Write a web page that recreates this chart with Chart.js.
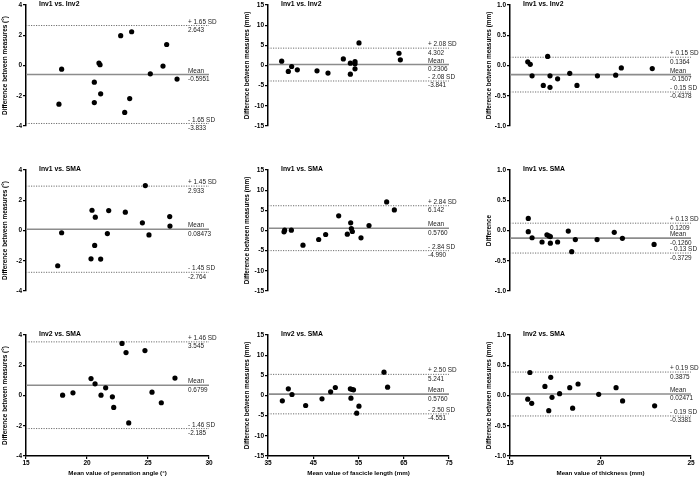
<!DOCTYPE html>
<html>
<head>
<meta charset="utf-8">
<script src="https://cdn.jsdelivr.net/npm/chart.js@4.4.1/dist/chart.umd.min.js"></script>
<style>
body{margin:0;background:#fff}
#wrap{position:relative;width:700px;height:478px;overflow:hidden}
#wrap canvas{position:absolute}
</style>
</head>
<body>
<div id="wrap"></div>
<script>
// pennation angle, Inv1 vs. Inv2
const pennA_x = [17.7, 17.92, 20.6, 20.6, 20.98, 21.07, 21.12, 22.76, 23.09, 23.5, 23.66, 25.19, 26.23, 26.53, 27.38];
const pennA_y = [-2.56, -0.24, -1.1, -2.45, 0.16, 0.05, -1.87, 1.97, -3.1, -2.19, 2.23, -0.55, -0.04, 1.39, -0.9];
// fascicle length, Inv1 vs. Inv2
const fascA_x = [38.02, 39.49, 40.23, 41.48, 45.83, 48.26, 51.65, 53.2, 53.2, 54.23, 54.23, 54.23, 55.11, 63.95, 64.25];
const fascA_y = [1.07, -1.48, -0.25, -1.07, -1.31, -1.89, 1.64, 0.58, -2.14, 0.99, 0.41, -0.82, 5.59, 3.04, 1.4];
// thickness, Inv1 vs. Inv2
const thickA_x = [15.98, 16.12, 16.22, 16.84, 17.08, 17.21, 17.21, 17.63, 18.3, 18.7, 19.83, 20.84, 21.15, 22.86];
const thickA_y = [0.06, 0.02, -0.17, -0.33, 0.15, -0.17, -0.36, -0.22, -0.13, -0.33, -0.17, -0.16, -0.04, -0.05];
// pennation angle, Inv1 vs. SMA
const pennB_x = [17.6, 17.92, 20.41, 20.33, 20.63, 20.68, 21.12, 21.67, 21.78, 23.14, 24.54, 24.78, 25.08, 26.78, 26.8];
const pennB_y = [-2.33, -0.15, 1.34, -1.87, -0.99, 0.88, -1.89, -0.2, 1.32, 1.21, 0.51, 2.97, -0.29, 0.92, 0.29];
// fascicle length, Inv1 vs. SMA
const fascB_x = [38.68, 38.54, 40.16, 42.73, 46.2, 47.74, 50.62, 52.53, 53.27, 53.42, 53.64, 55.55, 57.32, 61.22, 62.92];
const fascB_y = [0.08, -0.33, 0.08, -3.63, -2.23, -0.99, 3.63, -0.91, 1.9, 0.49, -0.25, -1.81, 1.24, 7.09, 5.11];
// thickness, Inv1 vs. SMA
const thickB_x = [16.01, 16.01, 16.22, 16.77, 17.04, 17.15, 17.23, 17.23, 17.63, 18.22, 18.41, 18.61, 19.81, 20.76, 21.21, 22.96];
const thickB_y = [0.2, -0.02, -0.12, -0.19, -0.07, -0.09, -0.1, -0.21, -0.19, -0.01, -0.35, -0.15, -0.15, -0.03, -0.13, -0.23];
// pennation angle, Inv2 vs. SMA
const pennC_x = [18.0, 18.85, 20.33, 20.66, 21.15, 21.53, 22.08, 22.19, 22.87, 23.2, 23.42, 24.75, 25.33, 26.09, 27.21];
const pennC_y = [0.02, 0.18, 1.12, 0.77, 0.02, 0.51, -0.09, -0.79, 3.44, 2.84, -1.81, 2.97, 0.22, -0.48, 1.15];
// fascicle length, Inv2 vs. SMA
const fascC_x = [38.17, 39.49, 40.3, 43.32, 46.93, 48.84, 49.88, 53.2, 53.33, 53.63, 53.9, 54.6, 55.1, 60.64, 61.43];
const fascC_y = [-1.32, 1.65, 0.25, -2.48, -0.83, 0.91, 1.98, 1.65, -0.66, 1.49, 1.4, -4.38, -2.64, 5.79, 2.07];
// thickness, Inv2 vs. SMA
const thickC_x = [15.98, 16.1, 16.2, 16.93, 17.14, 17.25, 17.32, 17.74, 18.3, 18.46, 18.76, 19.9, 20.86, 21.22, 22.99];
const thickC_y = [-0.06, 0.38, -0.13, 0.15, -0.25, 0.3, -0.03, 0.03, 0.13, -0.21, 0.19, 0.02, 0.13, -0.09, -0.17];

const panelX = [pennA_x, fascA_x, thickA_x, pennB_x, fascB_x, thickB_x, pennC_x, fascC_x, thickC_x];
const panelY = [pennA_y, fascA_y, thickA_y, pennB_y, fascB_y, thickB_y, pennC_y, fascC_y, thickC_y];

const titles = ['Inv1 vs. Inv2', 'Inv1 vs. Inv2', 'Inv1 vs. Inv2',
                'Inv1 vs. SMA', 'Inv1 vs. SMA', 'Inv1 vs. SMA',
                'Inv2 vs. SMA', 'Inv2 vs. SMA', 'Inv2 vs. SMA'];
const yTitles = ['Difference between measures (°)', 'Difference between measures (mm)', 'Difference between measures (mm)',
                 'Difference between measures (°)', 'Difference between measures (mm)', 'Difference',
                 'Difference between measures (°)', 'Difference between measures (mm)', 'Difference between measures (mm)'];
const xTitles = ['Mean value of pennation angle (°)', 'Mean value of fascicle length (mm)', 'Mean value of thickness (mm)'];

const xMin = [15, 35, 15], xMax = [30, 75, 25], xStep = [5, 10, 5];
const yMin = [-4, -15, -1], yMax = [4, 15, 1], yStep = [2, 5, 0.5];

const meanLines = [-0.5951, 0.2306, -0.1507, 0.08473, 0.5760, -0.1260, 0.6799, 0.345, 0.02471];
const upperLimits = [2.643, 4.302, 0.1364, 2.933, 6.142, 0.1209, 3.545, 5.241, 0.3875];
const lowerLimits = [-3.833, -3.841, -0.4378, -2.764, -4.990, -0.3729, -2.185, -4.551, -0.3381];
const sdTexts = ['1.65', '2.08', '0.15', '1.45', '2.84', '0.13', '1.46', '2.50', '0.19'];
const meanTexts = ['-0.5951', '0.2306', '-0.1507', '0.08473', '0.5760', '-0.1260', '0.6799', '0.5760', '0.02471'];
const upperTexts = ['2.643', '4.302', '0.1364', '2.933', '6.142', '0.1209', '3.545', '5.241', '0.3875'];
const lowerTexts = ['-3.833', '-3.841', '-0.4378', '-2.764', '-4.990', '-0.3729', '-2.185', '-4.551', '-0.3381'];

const FONT = '"Liberation Sans", Arial, sans-serif';
const colLeft = [0, 242, 484];
const colWidth = [235, 235, 216];
const plotWidth = [183, 181, 181];
const rowTop = [0, 165, 330];

const labelPlugin = {
    id: 'baLabels',
    afterDatasetsDraw(chart, args, opts) {
        const {ctx, chartArea} = chart;
        const ys = chart.scales.y;
        const x0 = chartArea.right - 21;
        ctx.save();
        ctx.fillStyle = '#222';
        ctx.font = '6.4px ' + FONT;
        ctx.textAlign = 'left';
        opts.rows.forEach(r => {
            const py = ys.getPixelForValue(r[0]);
            ctx.textBaseline = 'bottom';
            ctx.fillText(r[1], x0, py - 0.5);
            ctx.textBaseline = 'top';
            ctx.fillText(r[2], x0, py + 1.5);
        });
        ctx.fillStyle = '#000';
        ctx.font = 'bold 6.8px ' + FONT;
        ctx.textBaseline = 'middle';
        ctx.fillText(opts.title, chartArea.left + 13, chartArea.top - 0.5);
        ctx.restore();
    }
};

const wrap = document.getElementById('wrap');

for (let i = 0; i < 9; i++) {
    const row = Math.floor(i / 3), col = i % 3;
    const h = row === 2 ? 148 : 160;
    const cv = document.createElement('canvas');
    cv.width = colWidth[col];
    cv.height = h;
    cv.style.left = colLeft[col] + 'px';
    cv.style.top = rowTop[row] + 'px';
    wrap.appendChild(cv);

    const pts = panelX[i].map((x, k) => ({x: x, y: panelY[i][k]}));
    const lineOf = (v, dashed) => ({
        type: 'line',
        data: [{x: xMin[col], y: v}, {x: xMax[col], y: v}],
        borderColor: dashed ? '#6f6f6f' : '#8c8c8c',
        borderWidth: dashed ? 1 : 1.6,
        borderDash: dashed ? [1.2, 1.3] : [],
        pointRadius: 0,
        order: 1
    });

    new Chart(cv, {
        type: 'scatter',
        data: {
            datasets: [
                {data: pts, backgroundColor: '#000', borderColor: '#000', pointRadius: 2.6, borderWidth: 0, order: 0},
                lineOf(meanLines[i], false),
                lineOf(upperLimits[i], true),
                lineOf(lowerLimits[i], true)
            ]
        },
        options: {
            responsive: false,
            animation: false,
            devicePixelRatio: 1,
            layout: {
                autoPadding: false,
                padding: {left: 0, top: 5, right: colWidth[col] - 26 - plotWidth[col], bottom: row === 2 ? 0 : 34}
            },
            plugins: {
                legend: {display: false},
                tooltip: {enabled: false},
                baLabels: {
                    title: titles[i],
                    rows: [
                        [upperLimits[i], '+ ' + sdTexts[i] + ' SD', upperTexts[i]],
                        [meanLines[i], 'Mean', meanTexts[i]],
                        [lowerLimits[i], '- ' + sdTexts[i] + ' SD', lowerTexts[i]]
                    ]
                }
            },
            scales: {
                x: {
                    type: 'linear',
                    display: row === 2,
                    min: xMin[col], max: xMax[col],
                    ticks: {stepSize: xStep[col], color: '#000', padding: 0, maxRotation: 0,
                            font: {family: FONT, size: 6.5, weight: 'bold'}},
                    grid: {drawOnChartArea: false, tickLength: 3, color: '#000', lineWidth: 1.2},
                    border: {color: '#000', width: 1.5},
                    title: {display: true, text: xTitles[col], color: '#000',
                            font: {family: FONT, size: 6.2, weight: 'bold'}, padding: {top: 0, bottom: 1}},
                    afterFit(s) { if (row === 2) s.height = 22; }
                },
                y: {
                    type: 'linear',
                    min: yMin[col], max: yMax[col],
                    ticks: {stepSize: yStep[col], color: '#000', padding: 1,
                            font: {family: FONT, size: 6.5, weight: 'bold'},
                            callback: v => col === 2 ? Number(v).toFixed(1) : v},
                    grid: {drawOnChartArea: false, tickLength: 3, color: '#000', lineWidth: 1.2},
                    border: {color: '#000', width: 1.5},
                    title: {display: true, text: yTitles[i], color: '#000',
                            font: {family: FONT, size: 6.4, weight: 'bold'}, padding: {top: 1.5, bottom: 0}},
                    afterFit(s) { s.width = 26; }
                }
            }
        },
        plugins: [labelPlugin]
    });
}
</script>
</body>
</html>
